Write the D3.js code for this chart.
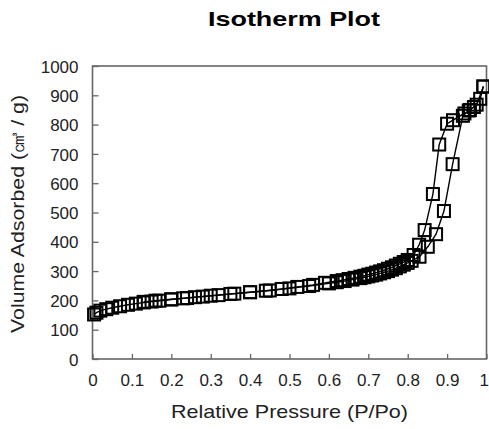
<!DOCTYPE html>
<html>
<head>
<meta charset="utf-8">
<script src="https://cdn.jsdelivr.net/npm/d3@7"></script>
<style>
  body { margin: 0; background: #fff; }
  text { font-family: "Liberation Sans", Arial, sans-serif; }
</style>
</head>
<body>
<div id="main"></div>
<script>
const ctx = {
    w: 489,
    h: 429,
    margin: { top: 66, right: 2.5, bottom: 70, left: 92.5 },
};

// adsorption branch (P/Po, cm3/g)
const adsP = [0.004, 0.01, 0.02, 0.035, 0.05, 0.07, 0.09, 0.11, 0.13, 0.15, 0.17, 0.2, 0.23, 0.26, 0.3,
    0.35, 0.4, 0.45, 0.5, 0.55, 0.6, 0.62, 0.64, 0.66, 0.68, 0.69, 0.7, 0.71, 0.72, 0.73, 0.74,
    0.75, 0.76, 0.77, 0.78, 0.79, 0.8, 0.81, 0.83,
    0.851, 0.872, 0.892, 0.914, 0.94, 0.958, 0.975, 0.992];
const adsV = [152, 158, 165, 170, 175, 180, 185, 189, 193, 196, 199, 203, 207, 211, 216,
    222, 228, 234, 241, 249, 258, 262, 266, 271, 276, 279, 282, 285, 288, 292, 296,
    300, 305, 310, 316, 322, 328, 335, 349,
    383, 426, 505, 665, 830, 850, 868, 930];

// desorption branch
const desP = [0.992, 0.984, 0.968, 0.955, 0.944, 0.915, 0.9, 0.88, 0.864, 0.843, 0.829, 0.815, 0.8,
    0.79, 0.78, 0.77, 0.76, 0.75, 0.74, 0.73, 0.72, 0.71, 0.7, 0.69, 0.68, 0.665, 0.65, 0.635,
    0.62, 0.59, 0.56, 0.52, 0.48, 0.44, 0.4, 0.36,
    0.32, 0.28, 0.24, 0.2, 0.16, 0.13];
const desV = [930, 888, 860, 848, 838, 815, 803, 732, 563, 440, 390, 355, 338,
    331, 325, 319, 313, 308, 303, 299, 295, 291, 288, 284, 281, 277, 273, 269,
    266, 260, 253, 246, 239, 233, 228, 223,
    218, 213, 208, 204, 199, 195];

const xTicks = [0, 0.1, 0.2, 0.3, 0.4, 0.5, 0.6, 0.7, 0.8, 0.9, 1];
const yTicks = [0, 100, 200, 300, 400, 500, 600, 700, 800, 900, 1000];

const svg = d3.select("#main").append("svg")
    .attr("width", ctx.w)
    .attr("height", ctx.h);

const xScale = d3.scaleLinear().domain([0, 1])
    .range([ctx.margin.left, ctx.w - ctx.margin.right]);
const yScale = d3.scaleLinear().domain([0, 1000])
    .range([ctx.h - ctx.margin.bottom, ctx.margin.top]);

// Titre
svg.append("text")
    .attr("x", 294)
    .attr("y", 26)
    .attr("text-anchor", "middle")
    .attr("textLength", 172)
    .attr("lengthAdjust", "spacingAndGlyphs")
    .style("font-size", "21px")
    .style("font-weight", "bold")
    .style("fill", "#000")
    .text("Isotherm  Plot");

// Axes
const xAxis = d3.axisBottom(xScale)
    .tickValues(xTicks)
    .tickFormat(d3.format("~g"))
    .tickSizeInner(-5).tickSizeOuter(0).tickPadding(15);
const yAxis = d3.axisLeft(yScale)
    .tickValues(yTicks)
    .tickFormat(d3.format("d"))
    .tickSizeInner(-6).tickSizeOuter(0).tickPadding(14);

const gx = svg.append("g")
    .attr("transform", `translate(0, ${ctx.h - ctx.margin.bottom})`)
    .call(xAxis);
const gy = svg.append("g")
    .attr("transform", `translate(${ctx.margin.left}, 0)`)
    .call(yAxis);

[gx, gy].forEach(g => {
    g.select(".domain").remove();
    g.selectAll(".tick line").attr("stroke", "#666").attr("stroke-width", 1.3);
    g.selectAll(".tick text")
        .style("font-size", "17px")
        .style("font-family", "Liberation Sans, Arial, sans-serif")
        .style("fill", "#222");
});
gy.selectAll(".tick text").attr("dy", "0.36em");
// le "1" colle au bord droit
gx.selectAll(".tick text").filter(d => d === 1)
    .attr("text-anchor", "end")
    .attr("x", 2);

// cadre
svg.append("rect")
    .attr("x", xScale(0))
    .attr("y", yScale(1000))
    .attr("width", xScale(1) - xScale(0))
    .attr("height", yScale(0) - yScale(1000))
    .attr("fill", "none")
    .attr("stroke", "#666")
    .attr("stroke-width", 1.6);

// Noms des axes
svg.append("text")
    .attr("x", 289.5)
    .attr("y", 418)
    .attr("text-anchor", "middle")
    .attr("textLength", 237)
    .attr("lengthAdjust", "spacingAndGlyphs")
    .style("font-size", "19px")
    .style("fill", "#222")
    .text("Relative Pressure (P/Po)");

svg.append("text")
    .attr("transform", "translate(24, 214) rotate(-90)")
    .attr("text-anchor", "middle")
    .attr("textLength", 238)
    .attr("lengthAdjust", "spacingAndGlyphs")
    .style("font-size", "19px")
    .style("fill", "#222")
    .text("Volume Adsorbed (㎤ / g)");

// Courbes
const ads = adsP.map((p, i) => [p, adsV[i]]);
const des = desP.map((p, i) => [p, desV[i]]);

const line = d3.line()
    .x(d => xScale(d[0]))
    .y(d => yScale(d[1]));

[ads, des].forEach(data => {
    svg.append("path")
        .datum(data)
        .attr("d", line)
        .attr("fill", "none")
        .attr("stroke", "#000")
        .attr("stroke-width", 1.4);

    svg.append("g").selectAll("rect")
        .data(data)
        .enter()
        .append("rect")
        .attr("x", d => xScale(d[0]) - 6)
        .attr("y", d => yScale(d[1]) - 6)
        .attr("width", 12)
        .attr("height", 12)
        .attr("fill", "none")
        .attr("stroke", "#000")
        .attr("stroke-width", 2);
});
</script>
</body>
</html>
